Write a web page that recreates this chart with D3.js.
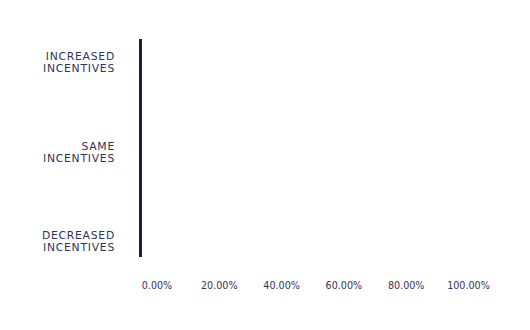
<!DOCTYPE html>
<html><head><meta charset="utf-8">
<script src="https://cdn.jsdelivr.net/npm/d3@7"></script>
<style>body{margin:0;background:#fff}svg{display:block}</style>
</head><body>
<svg id="c" width="530" height="330"></svg>
<script>
const categories = [["INCREASED","INCENTIVES"],["SAME","INCENTIVES"],["DECREASED","INCENTIVES"]];
const categoryKeys = ["Increased incentives","Same incentives","Decreased incentives"];
const values = [0, 0, 0];
const xTicks = [0, 20, 40, 60, 80, 100];

const svg = d3.select("#c");
const font = "'DejaVu Sans', sans-serif";
const textColor = "#34325a";
const axisColor = "#1e1b45";

const x = d3.scaleLinear().domain([0, 100]).range([140.5, 452]);
const y = d3.scaleBand().domain(categoryKeys).range([39, 257]).paddingOuter(0.05).paddingInner(0.1);

// bars
svg.append("g").selectAll("rect").data(values).join("rect")
  .attr("x", x(0)).attr("y", (d,i)=>y(categoryKeys[i]))
  .attr("width", d=>x(d)-x(0)).attr("height", y.bandwidth())
  .attr("fill", axisColor);

// y axis line
svg.append("line").attr("x1", x(0)).attr("x2", x(0))
  .attr("y1", y.range()[0]).attr("y2", y.range()[1])
  .attr("stroke", axisColor).attr("stroke-width", 3);

// y labels
const yl = svg.append("g");
const labelShift = [-15, 2, 18];
categoryKeys.forEach((k,i)=>{
  const cy = y(k) + y.bandwidth()/2;
  categories[i].forEach((ln,j)=>{
    yl.append("text").attr("text-anchor","end")
      .attr("x", 115).attr("y", cy + labelShift[i] + j*12)
      .attr("font-family", font).attr("font-size", "10.8px")
      .attr("letter-spacing", "0.75px").attr("fill", textColor)
      .text(ln);
  });
});

// x tick labels
svg.append("g").selectAll("text").data(xTicks).join("text")
  .attr("x", d=>x(d)+16.5).attr("y", 289)
  .attr("text-anchor","middle")
  .attr("font-family", font).attr("font-size", "9.6px").attr("fill", textColor)
  .text(d=>d3.format(".2f")(d)+"%");
</script>
</body></html>
